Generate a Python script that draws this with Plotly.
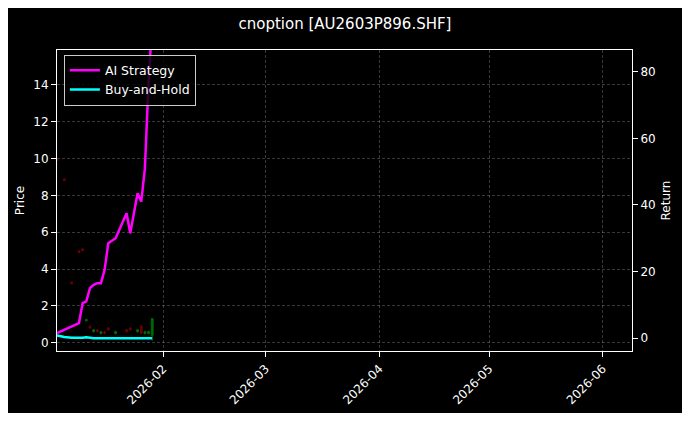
import plotly.graph_objects as go

dates = ["2026-01-03", "2026-01-05", "2026-01-07", "2026-01-09", "2026-01-10", "2026-01-11",
         "2026-01-12", "2026-01-13", "2026-01-14", "2026-01-15", "2026-01-16", "2026-01-17",
         "2026-01-19", "2026-01-22", "2026-01-23", "2026-01-25", "2026-01-26", "2026-01-27",
         "2026-01-28", "2026-01-29"]
ai_return = [1.5, 2.5, 3.5, 4.5, 10.5, 11, 15, 16, 16.5, 16.5, 20.5, 28.5,
             30, 37.5, 31.5, 43.5, 41, 51, 77, 95]
bh_return = [0.8, 0.3, 0.1, 0.0, 0.1, 0.2, 0.0, -0.1, -0.1, -0.1, -0.1, -0.1,
             -0.1, -0.1, -0.1, -0.1, -0.1, -0.1, -0.1, -0.1]
p_open = [10.0, 8.9, 3.3, 5.0, 5.1, 1.2, 0.9, 0.6, 0.7, 0.5, 0.6, 0.8,
          0.5, 0.7, 0.8, 0.6, 0.9, 0.5, 0.5, 0.4]
p_close = [9.9, 8.8, 3.2, 4.9, 5.0, 1.25, 0.8, 0.7, 0.6, 0.6, 0.5, 0.7,
           0.6, 0.6, 0.7, 0.7, 0.5, 0.6, 0.6, 1.3]
p_high = [10.0, 8.9, 3.3, 5.0, 5.1, 1.3, 0.95, 0.75, 0.75, 0.65, 0.65, 0.85,
          0.65, 0.75, 0.85, 0.75, 0.95, 0.65, 0.65, 1.35]
p_low = [9.9, 8.8, 3.2, 4.9, 5.0, 1.15, 0.75, 0.55, 0.55, 0.45, 0.45, 0.65,
         0.45, 0.55, 0.65, 0.55, 0.45, 0.45, 0.45, 0.1]

fig = go.Figure()
fig.add_trace(go.Candlestick(x=dates, open=p_open, high=p_high, low=p_low, close=p_close,
                             increasing=dict(line=dict(color="#00b000", width=1), fillcolor="#00b000"),
                             decreasing=dict(line=dict(color="#b00000", width=1), fillcolor="#b00000"),
                             whiskerwidth=0, opacity=0.6, showlegend=False))
fig.add_trace(go.Scatter(x=dates, y=ai_return, name="AI Strategy", yaxis="y2",
                         mode="lines", line=dict(color="#ff00ff", width=2.5)))
fig.add_trace(go.Scatter(x=dates, y=bh_return, name="Buy-and-Hold", yaxis="y2",
                         mode="lines", line=dict(color="#00ffff", width=2.5)))

grid = dict(showgrid=True, gridcolor="rgba(255,255,255,0.22)", griddash="3px,2px", gridwidth=0.5)
# page adds ~8px body margin, so the figure is a bit smaller than the window
fig.update_layout(
    width=674, height=405, paper_bgcolor="black", plot_bgcolor="black",
    font=dict(family="DejaVu Sans", color="white", size=12),
    title=dict(text="cnoption [AU2603P896.SHF]", x=0.5, y=0.975, yanchor="top", xanchor="center",
               font=dict(size=15)),
    margin=dict(l=49, r=50, t=42, b=62, autoexpand=False),
    xaxis=dict(range=["2026-01-03", "2026-06-09"], type="date", tickformat="%Y-%m",
               tickvals=["2026-02-01", "2026-03-01", "2026-04-01", "2026-05-01", "2026-06-01"],
               tickangle=-45, rangeslider=dict(visible=False), showline=True, linecolor="white",
               mirror=True, ticks="outside", tickcolor="white", zeroline=False, automargin=False, **grid),
    yaxis=dict(title=dict(text="Price", standoff=6, font=dict(size=12)), range=[-0.45, 15.9], dtick=2,
               ticks="outside", tickcolor="white", showline=True, linecolor="white", zeroline=False,
               automargin=False, **grid),
    yaxis2=dict(title=dict(text="Return", standoff=6, font=dict(size=12)), overlaying="y", side="right",
                range=[-3.9, 86.6], dtick=20, ticks="outside", tickcolor="white", showgrid=False,
                zeroline=False, showline=True, linecolor="white", automargin=False),
    legend=dict(x=0.012, y=0.985, xanchor="left", yanchor="top", bgcolor="rgba(0,0,0,0.8)",
                bordercolor="#cccccc", borderwidth=1, font=dict(size=12.5)),
)
fig.write_html("out.html")
